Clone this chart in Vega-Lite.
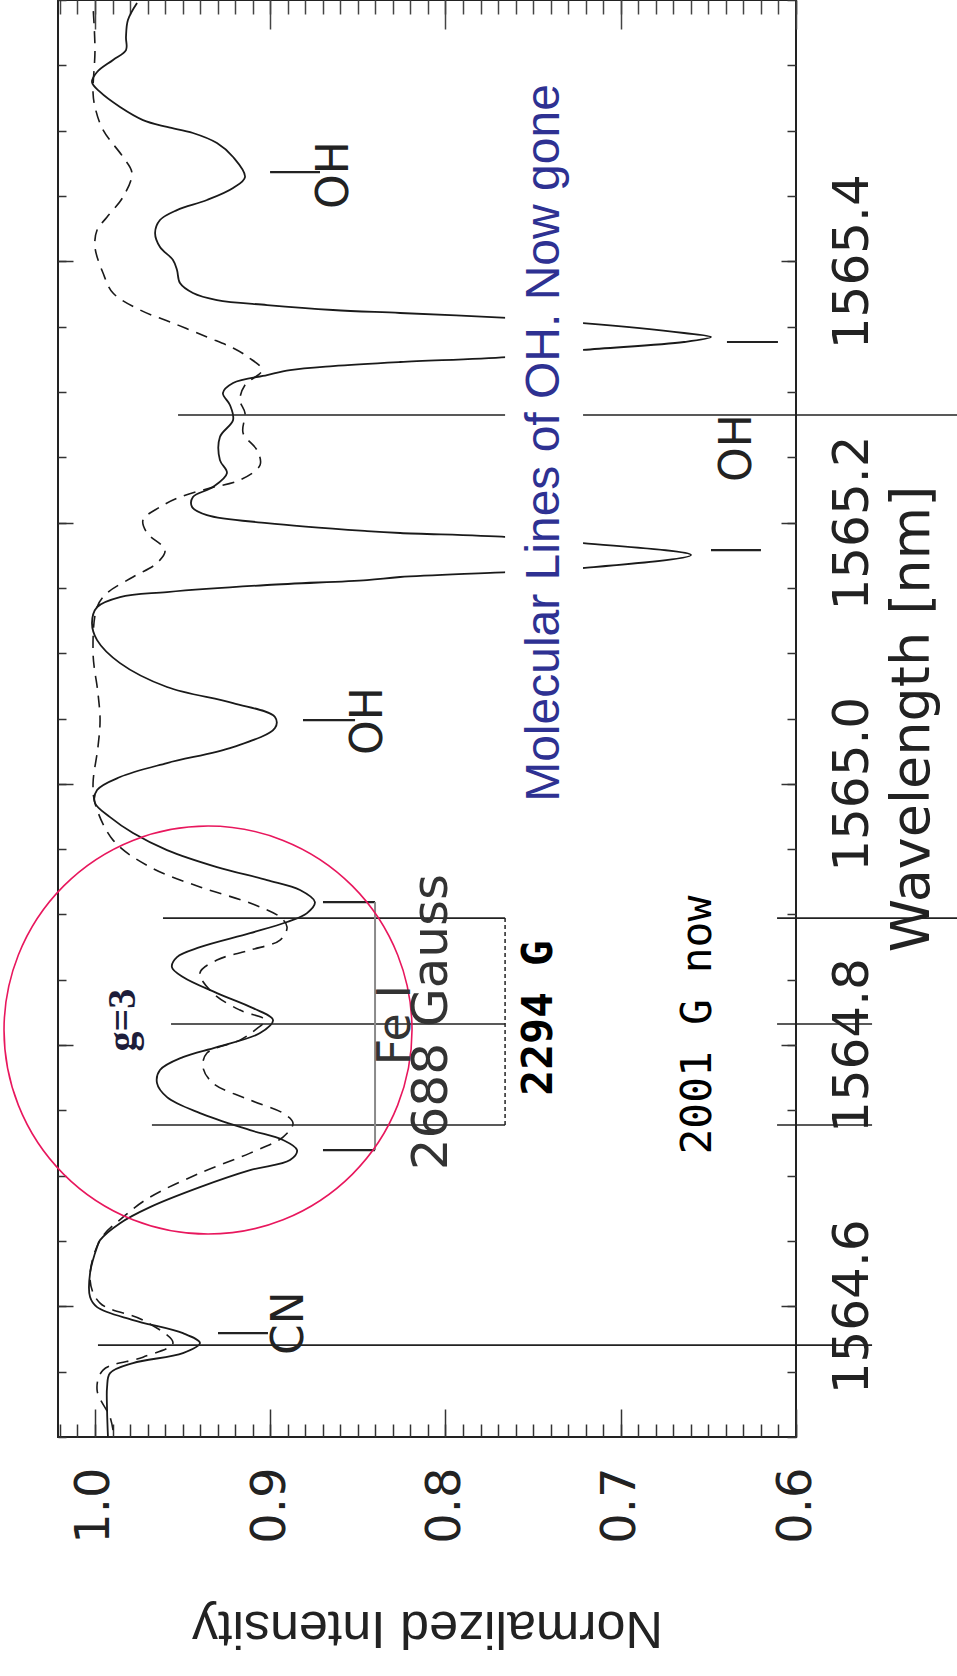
{
  "$schema": "https://vega.github.io/schema/vega-lite/v6.json",
  "width": 738,
  "height": 1437,
  "autosize": {"type": "none"},
  "padding": {"left": 58, "top": 0, "right": 161, "bottom": 239},
  "background": "white",
  "config": {
    "view": {"stroke": "#222", "strokeWidth": 2},
    "axis": {"grid": false}
  },
  "datasets": {
    "solid": [
      {"wl": 1565.5977, "I": 0.9760}, {"wl": 1565.5847, "I": 0.9812}, {"wl": 1565.5717, "I": 0.9823},
      {"wl": 1565.5617, "I": 0.9823}, {"wl": 1565.5541, "I": 0.9897}, {"wl": 1565.5449, "I": 0.9988},
      {"wl": 1565.5372, "I": 1.0017}, {"wl": 1565.5296, "I": 0.9971}, {"wl": 1565.5181, "I": 0.9857},
      {"wl": 1565.5081, "I": 0.9726}, {"wl": 1565.5028, "I": 0.9589}, {"wl": 1565.4982, "I": 0.9441},
      {"wl": 1565.4905, "I": 0.9304}, {"wl": 1565.4798, "I": 0.9212}, {"wl": 1565.4645, "I": 0.9144},
      {"wl": 1565.4561, "I": 0.9212}, {"wl": 1565.4469, "I": 0.9361}, {"wl": 1565.4392, "I": 0.9532},
      {"wl": 1565.4316, "I": 0.9629}, {"wl": 1565.4216, "I": 0.9657}, {"wl": 1565.4109, "I": 0.9629},
      {"wl": 1565.4010, "I": 0.9555}, {"wl": 1565.3933, "I": 0.9532}, {"wl": 1565.3833, "I": 0.9515},
      {"wl": 1565.3757, "I": 0.9441}, {"wl": 1565.3703, "I": 0.9304}, {"wl": 1565.3665, "I": 0.9018},
      {"wl": 1565.3627, "I": 0.8642}, {"wl": 1565.3604, "I": 0.8259}, {"wl": 1565.3566, "I": 0.7649},
      {"wl": 1565.3527, "I": 0.7215}, {"wl": 1565.3451, "I": 0.6639}, {"wl": 1565.3420, "I": 0.6485},
      {"wl": 1565.3382, "I": 0.6639}, {"wl": 1565.3321, "I": 0.7215}, {"wl": 1565.3267, "I": 0.7649},
      {"wl": 1565.3229, "I": 0.8259}, {"wl": 1565.3198, "I": 0.8642}, {"wl": 1565.3167, "I": 0.8887},
      {"wl": 1565.3129, "I": 0.9018}, {"wl": 1565.3068, "I": 0.9212}, {"wl": 1565.2991, "I": 0.9270},
      {"wl": 1565.2900, "I": 0.9230}, {"wl": 1565.2785, "I": 0.9212}, {"wl": 1565.2655, "I": 0.9287},
      {"wl": 1565.2478, "I": 0.9287}, {"wl": 1565.2379, "I": 0.9247}, {"wl": 1565.2272, "I": 0.9327},
      {"wl": 1565.2195, "I": 0.9441}, {"wl": 1565.2119, "I": 0.9446}, {"wl": 1565.2057, "I": 0.9361},
      {"wl": 1565.1996, "I": 0.9018}, {"wl": 1565.1935, "I": 0.8448}, {"wl": 1565.1920, "I": 0.8259},
      {"wl": 1565.1889, "I": 0.7649}, {"wl": 1565.1843, "I": 0.7215}, {"wl": 1565.1751, "I": 0.6599},
      {"wl": 1565.1652, "I": 0.7215}, {"wl": 1565.1621, "I": 0.7649}, {"wl": 1565.1583, "I": 0.8259},
      {"wl": 1565.1560, "I": 0.8448}, {"wl": 1565.1522, "I": 0.9018}, {"wl": 1565.1468, "I": 0.9589},
      {"wl": 1565.1430, "I": 0.9857}, {"wl": 1565.1353, "I": 0.9988}, {"wl": 1565.1231, "I": 1.0017},
      {"wl": 1565.1100, "I": 0.9988}, {"wl": 1565.0924, "I": 0.9857}, {"wl": 1565.0741, "I": 0.9589},
      {"wl": 1565.0618, "I": 0.9212}, {"wl": 1565.0511, "I": 0.8973}, {"wl": 1565.0427, "I": 0.8973},
      {"wl": 1565.0281, "I": 0.9212}, {"wl": 1565.0159, "I": 0.9589}, {"wl": 1565.0052, "I": 0.9857},
      {"wl": 1564.9952, "I": 0.9988}, {"wl": 1564.9853, "I": 1.0000}, {"wl": 1564.9745, "I": 0.9914},
      {"wl": 1564.9623, "I": 0.9783}, {"wl": 1564.9493, "I": 0.9589}, {"wl": 1564.9363, "I": 0.9304},
      {"wl": 1564.9263, "I": 0.9018}, {"wl": 1564.9187, "I": 0.8830}, {"wl": 1564.9095, "I": 0.8745},
      {"wl": 1564.9010, "I": 0.8790}, {"wl": 1564.8942, "I": 0.8904}, {"wl": 1564.8857, "I": 0.9115},
      {"wl": 1564.8750, "I": 0.9401}, {"wl": 1564.8674, "I": 0.9532}, {"wl": 1564.8597, "I": 0.9561},
      {"wl": 1564.8521, "I": 0.9498}, {"wl": 1564.8398, "I": 0.9304}, {"wl": 1564.8283, "I": 0.9098},
      {"wl": 1564.8191, "I": 0.8984}, {"wl": 1564.8092, "I": 0.9058}, {"wl": 1564.7985, "I": 0.9304},
      {"wl": 1564.7908, "I": 0.9498}, {"wl": 1564.7809, "I": 0.9629}, {"wl": 1564.7709, "I": 0.9646},
      {"wl": 1564.7602, "I": 0.9589}, {"wl": 1564.7479, "I": 0.9401}, {"wl": 1564.7349, "I": 0.9115},
      {"wl": 1564.7273, "I": 0.8927}, {"wl": 1564.7196, "I": 0.8847}, {"wl": 1564.7120, "I": 0.8887},
      {"wl": 1564.7043, "I": 0.9115}, {"wl": 1564.6913, "I": 0.9401}, {"wl": 1564.6760, "I": 0.9686},
      {"wl": 1564.6637, "I": 0.9857}, {"wl": 1564.6507, "I": 0.9971}, {"wl": 1564.6454, "I": 0.9988},
      {"wl": 1564.6255, "I": 1.0028}, {"wl": 1564.6071, "I": 1.0028}, {"wl": 1564.5994, "I": 0.9988},
      {"wl": 1564.5895, "I": 0.9783}, {"wl": 1564.5795, "I": 0.9498}, {"wl": 1564.5719, "I": 0.9401},
      {"wl": 1564.5642, "I": 0.9498}, {"wl": 1564.5566, "I": 0.9783}, {"wl": 1564.5489, "I": 0.9914},
      {"wl": 1564.5382, "I": 0.9931}, {"wl": 1564.5206, "I": 0.9931}, {"wl": 1564.5002, "I": 0.9926}
    ],
    "dashed": [
      {"wl": 1565.5946, "I": 1.0011}, {"wl": 1565.5617, "I": 1.0000}, {"wl": 1565.5288, "I": 1.0011},
      {"wl": 1565.5181, "I": 1.0000}, {"wl": 1565.5005, "I": 0.9954}, {"wl": 1565.4798, "I": 0.9840},
      {"wl": 1565.4676, "I": 0.9789}, {"wl": 1565.4492, "I": 0.9840}, {"wl": 1565.4339, "I": 0.9931},
      {"wl": 1565.4239, "I": 0.9988}, {"wl": 1565.4109, "I": 1.0000}, {"wl": 1565.3910, "I": 0.9954},
      {"wl": 1565.3757, "I": 0.9897}, {"wl": 1565.3627, "I": 0.9743}, {"wl": 1565.3527, "I": 0.9555},
      {"wl": 1565.3420, "I": 0.9361}, {"wl": 1565.3336, "I": 0.9212}, {"wl": 1565.3267, "I": 0.9127},
      {"wl": 1565.3167, "I": 0.9047}, {"wl": 1565.3053, "I": 0.9144}, {"wl": 1565.2938, "I": 0.9173},
      {"wl": 1565.2838, "I": 0.9144}, {"wl": 1565.2685, "I": 0.9155}, {"wl": 1565.2555, "I": 0.9076},
      {"wl": 1565.2440, "I": 0.9058}, {"wl": 1565.2325, "I": 0.9173}, {"wl": 1565.2264, "I": 0.9344},
      {"wl": 1565.2195, "I": 0.9515}, {"wl": 1565.2119, "I": 0.9629}, {"wl": 1565.2019, "I": 0.9726},
      {"wl": 1565.1920, "I": 0.9703}, {"wl": 1565.1789, "I": 0.9600}, {"wl": 1565.1690, "I": 0.9646},
      {"wl": 1565.1583, "I": 0.9783}, {"wl": 1565.1460, "I": 0.9931}, {"wl": 1565.1353, "I": 0.9988},
      {"wl": 1565.1001, "I": 1.0011}, {"wl": 1565.0695, "I": 0.9983}, {"wl": 1565.0488, "I": 0.9971},
      {"wl": 1565.0281, "I": 0.9983}, {"wl": 1565.0006, "I": 1.0011}, {"wl": 1564.9853, "I": 1.0000},
      {"wl": 1564.9569, "I": 0.9897}, {"wl": 1564.9363, "I": 0.9686}, {"wl": 1564.9210, "I": 0.9401},
      {"wl": 1564.9087, "I": 0.9115}, {"wl": 1564.8980, "I": 0.8944}, {"wl": 1564.8903, "I": 0.8904},
      {"wl": 1564.8804, "I": 0.8944}, {"wl": 1564.8727, "I": 0.9115}, {"wl": 1564.8651, "I": 0.9304},
      {"wl": 1564.8551, "I": 0.9401}, {"wl": 1564.8398, "I": 0.9327}, {"wl": 1564.8268, "I": 0.9173},
      {"wl": 1564.8191, "I": 0.9030}, {"wl": 1564.8115, "I": 0.9087}, {"wl": 1564.8038, "I": 0.9173},
      {"wl": 1564.7939, "I": 0.9361}, {"wl": 1564.7832, "I": 0.9384}, {"wl": 1564.7709, "I": 0.9327},
      {"wl": 1564.7579, "I": 0.9115}, {"wl": 1564.7479, "I": 0.8927}, {"wl": 1564.7403, "I": 0.8870},
      {"wl": 1564.7296, "I": 0.8927}, {"wl": 1564.7173, "I": 0.9115}, {"wl": 1564.7020, "I": 0.9401},
      {"wl": 1564.6836, "I": 0.9686}, {"wl": 1564.6683, "I": 0.9840}, {"wl": 1564.6507, "I": 0.9971},
      {"wl": 1564.6201, "I": 1.0028}, {"wl": 1564.6025, "I": 0.9971}, {"wl": 1564.5895, "I": 0.9726},
      {"wl": 1564.5719, "I": 0.9555}, {"wl": 1564.5611, "I": 0.9726}, {"wl": 1564.5512, "I": 0.9954},
      {"wl": 1564.5359, "I": 0.9988}, {"wl": 1564.5152, "I": 0.9914}, {"wl": 1564.5053, "I": 0.9897}
    ],
    "guides": [
      {"wl": 1565.2823, "i1": 0.9526, "i2": 0.5081},
      {"wl": 1564.8972, "i1": 0.9612, "i2": 0.7660},
      {"wl": 1564.8972, "i1": 0.6108, "i2": 0.5081},
      {"wl": 1564.8161, "i1": 0.9566, "i2": 0.7660},
      {"wl": 1564.8161, "i1": 0.6108, "i2": 0.5566},
      {"wl": 1564.7388, "i1": 0.9675, "i2": 0.7660},
      {"wl": 1564.7388, "i1": 0.6108, "i2": 0.5566},
      {"wl": 1564.5703, "i1": 0.9983, "i2": 0.5566}
    ],
    "markers": [
      {"wl": 1565.4683, "i1": 0.9001, "i2": 0.8716},
      {"wl": 1565.3382, "i1": 0.6394, "i2": 0.6103},
      {"wl": 1565.1789, "i1": 0.6485, "i2": 0.6200},
      {"wl": 1565.0488, "i1": 0.8813, "i2": 0.8516},
      {"wl": 1564.5795, "i1": 0.9298, "i2": 0.9013},
      {"wl": 1564.9095, "i1": 0.8699, "i2": 0.8402},
      {"wl": 1564.7196, "i1": 0.8699, "i2": 0.8402}
    ],
    "connector": [{"I": 0.7660, "wl1": 1564.8972, "wl2": 1564.7388}],
    "bracket": [{"I": 0.8402, "wl1": 1564.9095, "wl2": 1564.7196}],
    "backdrop": [{"i1": 0.7660, "i2": 0.7215, "wl1": 1565.5388, "wl2": 1564.9837}],
    "circle": [{"wl": 1564.8115, "I": 0.9355}],
    "notes": [
      {"kind": "mol", "label": "OH", "wl": 1565.4660, "I": 0.8630},
      {"kind": "mol", "label": "OH", "wl": 1565.2570, "I": 0.6331},
      {"kind": "mol", "label": "OH", "wl": 1565.0480, "I": 0.8436},
      {"kind": "mol", "label": "CN", "wl": 1564.5872, "I": 0.8887},
      {"kind": "fe", "label": "Fe I", "wl": 1564.8153, "I": 0.8282},
      {"kind": "gauss", "label": "2688 Gauss", "wl": 1564.8176, "I": 0.8077},
      {"kind": "g", "label": "g=3", "wl": 1564.8191, "I": 0.9840},
      {"kind": "then", "label": "2294 G", "wl": 1564.8207, "I": 0.7466},
      {"kind": "now", "label": "2001 G now", "wl": 1564.8153, "I": 0.6559},
      {"kind": "gone", "label": "Molecular Lines of OH. Now gone", "wl": 1565.2609, "I": 0.7432}
    ]
  },
  "resolve": {"axis": {"x": "independent", "y": "independent"}},
  "layer": [
    {
      "data": {"name": "solid"},
      "mark": {"type": "line", "color": "#1a1a1a", "strokeWidth": 1.8, "interpolate": "catmull-rom"},
      "encoding": {
        "x": {
          "field": "I", "type": "quantitative",
          "scale": {"domain": [0.6, 1.0211], "reverse": true, "nice": false, "zero": false},
          "axis": {
            "orient": "bottom", "values": [0.6, 0.7, 0.8, 0.9, 1.0], "format": ".1f",
            "ticks": false, "tickSize": 0, "domain": false,
            "labelAngle": 270, "labelAlign": "right", "labelBaseline": "middle", "labelPadding": 30,
            "labelFont": "DejaVu Sans", "labelFontSize": 48, "labelColor": "#222",
            "labelFlush": false, "labelOverlap": false,
            "title": "Normalized Intensity", "titleAngle": 180, "titleBaseline": "bottom", "titleAlign": "center",
            "titleFont": "Liberation Sans", "titleFontSize": 52, "titleFontWeight": "normal", "titleColor": "#222",
            "titlePadding": 57
          }
        },
        "y": {
          "field": "wl", "type": "quantitative",
          "scale": {"domain": [1564.5, 1565.6], "nice": false, "zero": false},
          "axis": {
            "orient": "right", "values": [1564.6, 1564.8, 1565.0, 1565.2, 1565.4], "format": ".1f",
            "ticks": false, "tickSize": 0, "domain": false,
            "labelAngle": 270, "labelAlign": "center", "labelBaseline": "top", "labelPadding": 31,
            "labelFont": "DejaVu Sans", "labelFontSize": 50, "labelColor": "#222",
            "labelFlush": false, "labelOverlap": false,
            "title": "Wavelength [nm]", "titleAngle": 270, "titleBaseline": "top", "titleAlign": "center",
            "titleFont": "DejaVu Sans", "titleFontSize": 54, "titleFontWeight": "normal", "titleColor": "#222",
            "titlePadding": 8
          }
        },
        "order": {"field": "wl", "type": "quantitative"}
      }
    },
    {
      "data": {"name": "dashed"},
      "mark": {"type": "line", "color": "#1a1a1a", "strokeWidth": 1.6, "strokeDash": [12, 8], "interpolate": "catmull-rom"},
      "encoding": {
        "x": {
          "field": "I", "type": "quantitative",
          "scale": {"domain": [0.6, 1.0211], "reverse": true, "nice": false, "zero": false},
          "axis": {
            "orient": "bottom", "labels": false, "domain": false, "title": null,
            "values": [0.6, 0.61, 0.62, 0.63, 0.64, 0.65, 0.66, 0.67, 0.68, 0.69, 0.7, 0.71, 0.72, 0.73, 0.74, 0.75, 0.76, 0.77, 0.78, 0.79, 0.8, 0.81, 0.82, 0.83, 0.84, 0.85, 0.86, 0.87, 0.88, 0.89, 0.9, 0.91, 0.92, 0.93, 0.94, 0.95, 0.96, 0.97, 0.98, 0.99, 1.0, 1.01, 1.02],
            "tickSize": -13, "tickWidth": 1.5, "tickColor": "#333"
          }
        },
        "y": {
          "field": "wl", "type": "quantitative",
          "scale": {"domain": [1564.5, 1565.6], "nice": false, "zero": false},
          "axis": {
            "orient": "right", "labels": false, "domain": false, "title": null,
            "values": [1564.5, 1564.55, 1564.6, 1564.65, 1564.7, 1564.75, 1564.8, 1564.85, 1564.9, 1564.95, 1565.0, 1565.05, 1565.1, 1565.15, 1565.2, 1565.25, 1565.3, 1565.35, 1565.4, 1565.45, 1565.5, 1565.55, 1565.6],
            "tickSize": -9, "tickWidth": 1.5, "tickColor": "#333"
          }
        },
        "order": {"field": "wl", "type": "quantitative"}
      }
    },
    {
      "data": {"name": "guides"},
      "mark": {"type": "rule", "color": "#222", "strokeWidth": 1.6},
      "encoding": {
        "x": {
          "field": "i1", "type": "quantitative",
          "scale": {"domain": [0.6, 1.0211], "reverse": true, "nice": false, "zero": false},
          "axis": {
            "orient": "bottom", "labels": false, "domain": false, "title": null,
            "values": [0.6, 0.7, 0.8, 0.9, 1.0],
            "tickSize": -28, "tickWidth": 1.5, "tickColor": "#333"
          }
        },
        "x2": {"field": "i2"},
        "y": {
          "field": "wl", "type": "quantitative",
          "scale": {"domain": [1564.5, 1565.6], "nice": false, "zero": false},
          "axis": {
            "orient": "right", "labels": false, "domain": false, "title": null,
            "values": [1564.6, 1564.8, 1565.0, 1565.2, 1565.4],
            "tickSize": -15, "tickWidth": 1.5, "tickColor": "#333"
          }
        }
      }
    },
    {
      "data": {"name": "markers"},
      "mark": {"type": "rule", "color": "#222", "strokeWidth": 2.2},
      "encoding": {
        "x": {
          "field": "i1", "type": "quantitative",
          "scale": {"domain": [0.6, 1.0211], "reverse": true, "nice": false, "zero": false},
          "axis": {
            "orient": "top", "labels": false, "domain": false, "title": null,
            "values": [0.6, 0.61, 0.62, 0.63, 0.64, 0.65, 0.66, 0.67, 0.68, 0.69, 0.7, 0.71, 0.72, 0.73, 0.74, 0.75, 0.76, 0.77, 0.78, 0.79, 0.8, 0.81, 0.82, 0.83, 0.84, 0.85, 0.86, 0.87, 0.88, 0.89, 0.9, 0.91, 0.92, 0.93, 0.94, 0.95, 0.96, 0.97, 0.98, 0.99, 1.0, 1.01, 1.02],
            "tickSize": -14, "tickWidth": 1.5, "tickColor": "#444"
          }
        },
        "x2": {"field": "i2"},
        "y": {
          "field": "wl", "type": "quantitative",
          "scale": {"domain": [1564.5, 1565.6], "nice": false, "zero": false},
          "axis": {
            "orient": "left", "labels": false, "domain": false, "title": null,
            "values": [1564.5, 1564.55, 1564.6, 1564.65, 1564.7, 1564.75, 1564.8, 1564.85, 1564.9, 1564.95, 1565.0, 1565.05, 1565.1, 1565.15, 1565.2, 1565.25, 1565.3, 1565.35, 1565.4, 1565.45, 1565.5, 1565.55, 1565.6],
            "tickSize": -8, "tickWidth": 1.5, "tickColor": "#333"
          }
        }
      }
    },
    {
      "data": {"name": "connector"},
      "mark": {"type": "rule", "color": "#222", "strokeWidth": 1.5, "strokeDash": [4, 3]},
      "encoding": {
        "x": {
          "field": "I", "type": "quantitative",
          "scale": {"domain": [0.6, 1.0211], "reverse": true, "nice": false, "zero": false},
          "axis": {
            "orient": "top", "labels": false, "domain": false, "title": null,
            "values": [0.6, 0.7, 0.8, 0.9, 1.0],
            "tickSize": -29, "tickWidth": 1.5, "tickColor": "#444"
          }
        },
        "y": {
          "field": "wl1", "type": "quantitative",
          "scale": {"domain": [1564.5, 1565.6], "nice": false, "zero": false},
          "axis": {
            "orient": "left", "labels": false, "domain": false, "title": null,
            "values": [1564.6, 1564.8, 1565.0, 1565.2, 1565.4],
            "tickSize": -15, "tickWidth": 1.5, "tickColor": "#333"
          }
        },
        "y2": {"field": "wl2"}
      }
    },
    {
      "data": {"name": "bracket"},
      "mark": {"type": "rule", "color": "#8a8a8a", "strokeWidth": 2},
      "encoding": {
        "x": {"field": "I", "type": "quantitative", "axis": null,
              "scale": {"domain": [0.6, 1.0211], "reverse": true, "nice": false, "zero": false}},
        "y": {"field": "wl1", "type": "quantitative", "axis": null,
              "scale": {"domain": [1564.5, 1565.6], "nice": false, "zero": false}},
        "y2": {"field": "wl2"}
      }
    },
    {
      "data": {"name": "circle"},
      "mark": {"type": "point", "shape": "circle", "size": 166464, "filled": false, "stroke": "#e8175d", "strokeWidth": 1.6, "opacity": 1},
      "encoding": {
        "x": {"field": "I", "type": "quantitative", "axis": null,
              "scale": {"domain": [0.6, 1.0211], "reverse": true, "nice": false, "zero": false}},
        "y": {"field": "wl", "type": "quantitative", "axis": null,
              "scale": {"domain": [1564.5, 1565.6], "nice": false, "zero": false}}
      }
    },
    {
      "data": {"name": "backdrop"},
      "mark": {"type": "rect", "color": "white"},
      "encoding": {
        "x": {"field": "i1", "type": "quantitative", "axis": null,
              "scale": {"domain": [0.6, 1.0211], "reverse": true, "nice": false, "zero": false}},
        "x2": {"field": "i2"},
        "y": {"field": "wl1", "type": "quantitative", "axis": null,
              "scale": {"domain": [1564.5, 1565.6], "nice": false, "zero": false}},
        "y2": {"field": "wl2"}
      }
    },
    {
      "data": {"name": "notes"},
      "transform": [{"filter": "datum.kind === 'mol'"}],
      "mark": {"type": "text", "angle": 270, "align": "center", "baseline": "middle", "font": "DejaVu Sans", "fontSize": 44, "color": "#222"},
      "encoding": {
        "x": {"field": "I", "type": "quantitative", "axis": null,
              "scale": {"domain": [0.6, 1.0211], "reverse": true, "nice": false, "zero": false}},
        "y": {"field": "wl", "type": "quantitative", "axis": null,
              "scale": {"domain": [1564.5, 1565.6], "nice": false, "zero": false}},
        "text": {"field": "label"}
      }
    },
    {
      "data": {"name": "notes"},
      "transform": [{"filter": "datum.kind === 'fe'"}],
      "mark": {"type": "text", "angle": 270, "align": "center", "baseline": "middle", "font": "DejaVu Sans", "fontSize": 46, "color": "#333"},
      "encoding": {
        "x": {"field": "I", "type": "quantitative", "axis": null,
              "scale": {"domain": [0.6, 1.0211], "reverse": true, "nice": false, "zero": false}},
        "y": {"field": "wl", "type": "quantitative", "axis": null,
              "scale": {"domain": [1564.5, 1565.6], "nice": false, "zero": false}},
        "text": {"field": "label"}
      }
    },
    {
      "data": {"name": "notes"},
      "transform": [{"filter": "datum.kind === 'gauss'"}],
      "mark": {"type": "text", "angle": 270, "align": "center", "baseline": "middle", "font": "DejaVu Sans", "fontSize": 50, "color": "#333"},
      "encoding": {
        "x": {"field": "I", "type": "quantitative", "axis": null,
              "scale": {"domain": [0.6, 1.0211], "reverse": true, "nice": false, "zero": false}},
        "y": {"field": "wl", "type": "quantitative", "axis": null,
              "scale": {"domain": [1564.5, 1565.6], "nice": false, "zero": false}},
        "text": {"field": "label"}
      }
    },
    {
      "data": {"name": "notes"},
      "transform": [{"filter": "datum.kind === 'g'"}],
      "mark": {"type": "text", "angle": 270, "align": "center", "baseline": "middle", "font": "Liberation Serif", "fontSize": 40, "fontWeight": "bold", "color": "#1d1d3a"},
      "encoding": {
        "x": {"field": "I", "type": "quantitative", "axis": null,
              "scale": {"domain": [0.6, 1.0211], "reverse": true, "nice": false, "zero": false}},
        "y": {"field": "wl", "type": "quantitative", "axis": null,
              "scale": {"domain": [1564.5, 1565.6], "nice": false, "zero": false}},
        "text": {"field": "label"}
      }
    },
    {
      "data": {"name": "notes"},
      "transform": [{"filter": "datum.kind === 'then'"}],
      "mark": {"type": "text", "angle": 270, "align": "center", "baseline": "middle", "font": "DejaVu Sans Mono", "fontSize": 43, "fontWeight": "bold", "color": "black"},
      "encoding": {
        "x": {"field": "I", "type": "quantitative", "axis": null,
              "scale": {"domain": [0.6, 1.0211], "reverse": true, "nice": false, "zero": false}},
        "y": {"field": "wl", "type": "quantitative", "axis": null,
              "scale": {"domain": [1564.5, 1565.6], "nice": false, "zero": false}},
        "text": {"field": "label"}
      }
    },
    {
      "data": {"name": "notes"},
      "transform": [{"filter": "datum.kind === 'now'"}],
      "mark": {"type": "text", "angle": 270, "align": "center", "baseline": "middle", "font": "DejaVu Sans Mono", "fontSize": 43, "color": "black"},
      "encoding": {
        "x": {"field": "I", "type": "quantitative", "axis": null,
              "scale": {"domain": [0.6, 1.0211], "reverse": true, "nice": false, "zero": false}},
        "y": {"field": "wl", "type": "quantitative", "axis": null,
              "scale": {"domain": [1564.5, 1565.6], "nice": false, "zero": false}},
        "text": {"field": "label"}
      }
    },
    {
      "data": {"name": "notes"},
      "transform": [{"filter": "datum.kind === 'gone'"}],
      "mark": {"type": "text", "angle": 270, "align": "center", "baseline": "middle", "font": "Liberation Sans", "fontSize": 48, "color": "#2e3192"},
      "encoding": {
        "x": {"field": "I", "type": "quantitative", "axis": null,
              "scale": {"domain": [0.6, 1.0211], "reverse": true, "nice": false, "zero": false}},
        "y": {"field": "wl", "type": "quantitative", "axis": null,
              "scale": {"domain": [1564.5, 1565.6], "nice": false, "zero": false}},
        "text": {"field": "label"}
      }
    }
  ]
}
